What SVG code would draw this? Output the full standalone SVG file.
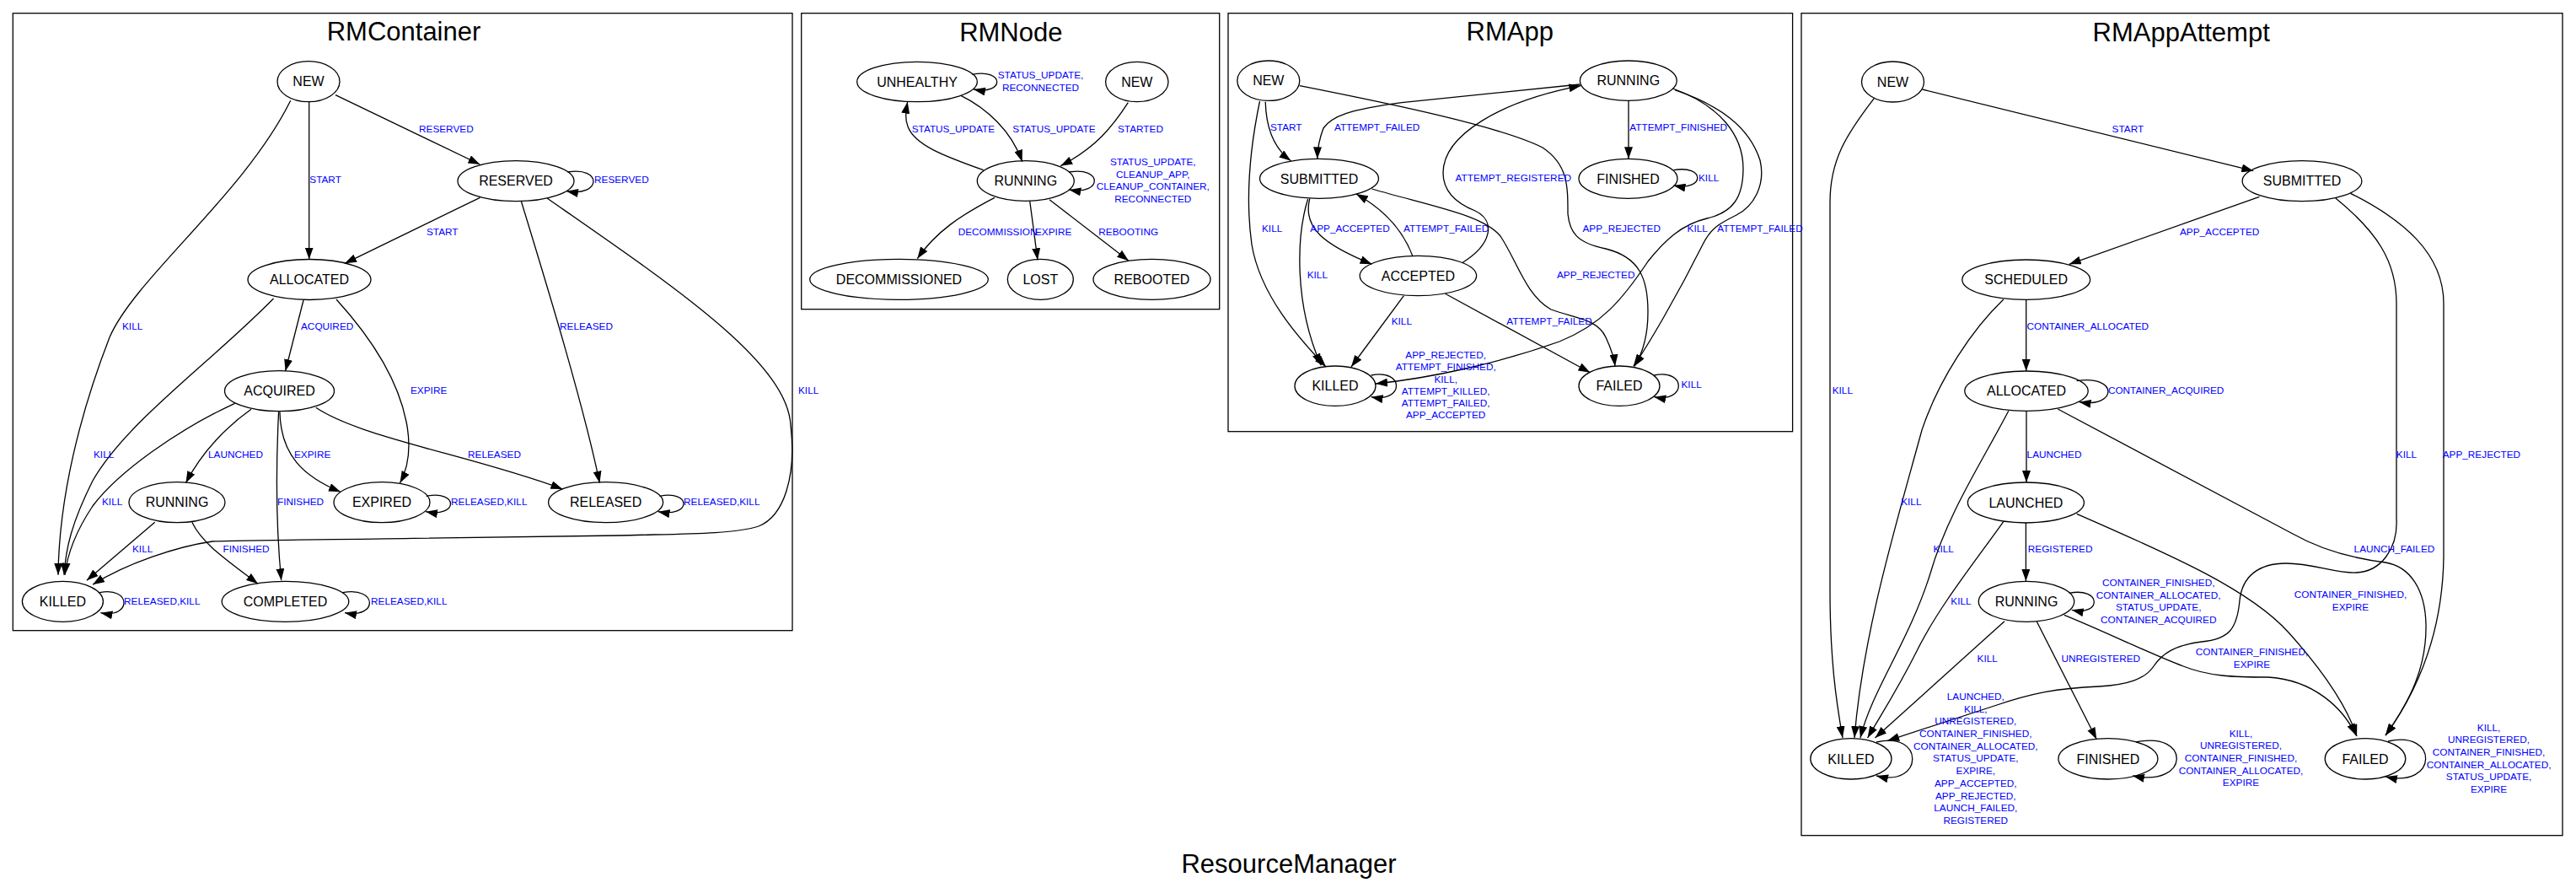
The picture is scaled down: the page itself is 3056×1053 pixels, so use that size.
<svg xmlns="http://www.w3.org/2000/svg" width="3056" height="1053" viewBox="0 0 3056 1053">
<style>
.bg{fill:#fff}
.cl{fill:none;stroke:#000;stroke-width:1.3}
.nd ellipse{fill:none;stroke:#000;stroke-width:1.3}
.nd text{font-family:"Liberation Sans",Arial,sans-serif;font-size:16px;text-anchor:middle;fill:#000}
.ed path{fill:none;stroke:#000;stroke-width:1.3;marker-end:url(#ah)}
.el{font-family:"Liberation Sans",Arial,sans-serif;font-size:11.8px;fill:#0000ff}
.lc{text-anchor:middle}
.tt{font-family:"Liberation Sans",Arial,sans-serif;font-size:31px;text-anchor:middle;fill:#000}
</style>
<defs>
<marker id="ah" markerWidth="14" markerHeight="10" refX="14" refY="5" orient="auto" markerUnits="userSpaceOnUse"><path d="M0,0 L14,5 L0,10 z" fill="#000"/></marker>
</defs>
<rect class="bg" x="0" y="0" width="3056" height="1053"/>

<!-- clusters -->
<g id="clusters">
<rect class="cl" x="15.3" y="15.7" width="924.7" height="732"/>
<text class="tt" x="479" y="48">RMContainer</text>
<rect class="cl" x="950.7" y="15.7" width="496" height="351"/>
<text class="tt" x="1199.3" y="49">RMNode</text>
<rect class="cl" x="1457" y="15.7" width="669.6" height="496"/>
<text class="tt" x="1791.3" y="48.3">RMApp</text>
<rect class="cl" x="2137" y="15.7" width="903" height="975"/>
<text class="tt" x="2587.7" y="49.3">RMAppAttempt</text>
<text class="tt" x="1529" y="1035">ResourceManager</text>
</g>

<!-- connectors -->
<g id="connectors" class="ed">
<!-- RMContainer -->
<path d="M398,112.7 L569.4,195"/>
<path d="M366.7,121 L366.7,307.5"/>
<path d="M673.5,204 C714.4,197 714.4,233.7 672,226.7"/>
<path d="M569.4,234.3 L409,312.3"/>
<path d="M618.4,238.7 C640,310 690,470 711.4,572.7"/>
<path d="M649,235 C800,340 935,430 938,505 C945,565 930,612 900,624 C870,634 800,633 735,635 L490,638.3 C400,640 300,640 252,642 C210,648 150,668 110,693.3"/>
<path d="M324.5,354 C250,430 150,500 110,570 C85,620 78,650 76,681.7"/>
<path d="M344.7,119.3 C290,230 160,330 130,400 C95,490 70,590 69,681.7"/>
<path d="M360,356 L338.6,440"/>
<path d="M399,355 C440,400 472,450 482,500 C488,530 484,555 474.5,572.7"/>
<path d="M298,485.3 C270,505 240,535 220.4,572.7"/>
<path d="M278.6,478.3 C210,510 140,560 110,600 C90,630 80,655 77,681.7"/>
<path d="M330.6,488.3 C328,540 327,620 333.7,688.3"/>
<path d="M331.9,488.3 C333,540 360,565 404,583.3"/>
<path d="M374.7,483.3 C430,520 560,540 667.4,580"/>
<path d="M505.7,588.3 C544.2,581 544.2,614 505,606.7"/>
<path d="M782.5,588.3 C820.8,581 820.8,614 780.6,606.7"/>
<path d="M183.7,619.3 L102.9,688.3"/>
<path d="M227.8,619.3 C240,645 270,665 306,692.3"/>
<path d="M118.2,702.7 C156.4,695 156.4,734 119.4,726.7"/>
<path d="M406.5,702.7 C448.6,695 448.6,734 409,726.7"/>
<!-- RMNode -->
<path d="M1153.3,88.3 C1192.2,81 1192.2,113 1155,106"/>
<path d="M1140,113.3 C1170,128 1200,155 1212.7,191.7"/>
<path d="M1166.7,201.7 C1120,185 1085,172 1077,150 C1073,140 1075,130 1076.7,120.7"/>
<path d="M1338.3,121.7 C1320,150 1300,175 1258.3,196.7"/>
<path d="M1268.3,204 C1308.3,197 1308.3,232 1268.3,225"/>
<path d="M1180,234.3 C1140,255 1110,275 1088.3,306.7"/>
<path d="M1221.7,238.3 L1231,308.3"/>
<path d="M1245,236.7 L1339,309.3"/>
<!-- RMApp -->
<path d="M1501.2,120.7 C1502,150 1510,175 1531.5,190.7"/>
<path d="M1874.4,100 L1663,121.7 C1600,130 1580,138 1570,152 C1565,165 1563,175 1562.8,188.3"/>
<path d="M1541.8,101.7 C1650,123 1780,150 1830,175 C1860,195 1860,220 1860,253.3 C1862,275 1870,288 1905,295 C1945,305 1955,330 1955,370 C1955,400 1948,420 1939,434.3"/>
<path d="M1627.5,224 C1700,245 1760,255 1780,280 C1800,310 1810,350 1840,367 C1870,378 1895,378 1905,400 C1912,415 1915,425 1916,434.3"/>
<path d="M1984.6,105 C2040,125 2068,160 2068,200 C2068,235 2055,252 2025,259 C1995,266 1975,285 1955,310 C1925,355 1900,385 1850,405 C1780,430 1700,448 1632,455"/>
<path d="M1986.9,106.7 C2040,125 2075,150 2088,190 C2095,220 2080,245 2060,255 C2040,265 2030,270 2020,290 C1990,350 1955,410 1937.8,434.3"/>
<path d="M1734.6,311.7 C1770,290 1775,262 1750,250 C1725,240 1712,225 1712,205 C1712,160 1780,120 1875.3,101.7"/>
<path d="M1675.7,303.3 C1665,275 1645,250 1608.8,230"/>
<path d="M1553.8,235.3 C1545,270 1570,290 1627.5,313.3"/>
<path d="M1551.6,236 C1538,280 1535,360 1567.2,433.3"/>
<path d="M1494.5,120 C1482,180 1478,240 1485,290 C1495,350 1540,400 1573,435"/>
<path d="M1665.4,350.7 L1603,435"/>
<path d="M1714.5,348.3 L1886.4,441.7"/>
<path d="M1932,119.3 L1932,188.3"/>
<path d="M1985.5,201.7 C2023.1,195 2023.1,227 1985.5,220"/>
<path d="M1626.6,445 C1666.5,437 1666.5,478 1626.6,470.7"/>
<path d="M1962.3,445 C2001,437 2001,478 1962.3,470.7"/>
<!-- RMAppAttempt -->
<path d="M2280.6,106 L2673.3,202.7"/>
<path d="M2223.3,116.7 C2190,160 2171,190 2171,240 L2171,700 C2171,780 2178,830 2186,875"/>
<path d="M2680.4,233.3 L2454.8,313.3"/>
<path d="M2770.8,235 C2820,275 2843,310 2843,360 L2843,615 C2845,650 2825,678 2795,679 C2770,680 2745,668 2712,668 C2680,668 2660,683 2657,712 C2654,745 2645,758 2612,761 C2580,765 2565,775 2555,790 C2545,805 2525,812 2490,814 C2440,816 2410,822 2366,837 L2239.3,878.3"/>
<path d="M2788.5,229.3 C2850,260 2899,300 2899,360 L2899,660 C2898,740 2875,810 2830,872"/>
<path d="M2403.7,355.3 L2403.7,440"/>
<path d="M2376.9,355 C2340,390 2300,450 2280,510 C2250,620 2210,750 2200,875"/>
<path d="M2463.7,451.7 C2512.8,444 2512.8,484 2466.6,476.7"/>
<path d="M2404,487.3 L2404,572"/>
<path d="M2382.8,487.3 C2350,550 2310,610 2290,680 C2265,760 2220,820 2207,875"/>
<path d="M2441.2,485 L2720,633 C2750,650 2790,662 2830,667 C2860,672 2877,700 2878,740 C2879,790 2860,830 2830,872"/>
<path d="M2403.4,620 L2403.4,689"/>
<path d="M2376.9,618.3 C2340,670 2300,720 2275,770 C2250,820 2230,850 2215.6,875"/>
<path d="M2454.8,703.3 C2493.6,696 2493.6,731 2457.8,723.3"/>
<path d="M2378,736.7 L2224.5,875"/>
<path d="M2416.4,737.3 L2487.3,876.7"/>
<path d="M2463.7,609.3 C2580,660 2670,700 2715,750 C2760,800 2785,840 2796,873"/>
<path d="M2448.9,729.3 C2500,750 2550,775 2590,790 C2620,802 2650,803 2690,803 C2745,806 2780,840 2795,872"/>
<path d="M2226,880 C2283,866 2283,934 2226,920"/>
<path d="M2534,880 C2599,866 2599,934 2530,920"/>
<path d="M2833,879 C2893,865 2893,935 2830,921"/>
</g>

<!-- edge labels -->
<g id="edge-labels" class="el">
<!-- RMContainer -->
<text x="497" y="156.9">RESERVED</text>
<text x="367.3" y="217.2">START</text>
<text x="705" y="217.2">RESERVED</text>
<text x="506" y="279.2">START</text>
<text x="145" y="390.9">KILL</text>
<text x="357" y="390.9">ACQUIRED</text>
<text x="664" y="390.9">RELEASED</text>
<text x="947" y="466.9">KILL</text>
<text x="487" y="466.9">EXPIRE</text>
<text x="111" y="542.9">KILL</text>
<text x="247" y="542.9">LAUNCHED</text>
<text x="349" y="542.9">EXPIRE</text>
<text x="555" y="542.9">RELEASED</text>
<text x="121" y="598.9">KILL</text>
<text x="329" y="598.9">FINISHED</text>
<text x="535" y="598.9">RELEASED,KILL</text>
<text x="811" y="598.9">RELEASED,KILL</text>
<text x="157" y="654.9">KILL</text>
<text x="264.5" y="654.9">FINISHED</text>
<text x="147" y="716.9">RELEASED,KILL</text>
<text x="440" y="716.9">RELEASED,KILL</text>
<!-- RMNode -->
<text class="lc"><tspan x="1234.5" y="92.9">STATUS_UPDATE,</tspan><tspan x="1234.5" y="107.9">RECONNECTED</tspan></text>
<text x="1081.7" y="156.9">STATUS_UPDATE</text>
<text x="1201.3" y="156.9">STATUS_UPDATE</text>
<text x="1326" y="156.9">STARTED</text>
<text class="lc"><tspan x="1367.8" y="195.9">STATUS_UPDATE,</tspan><tspan x="1367.8" y="210.5">CLEANUP_APP,</tspan><tspan x="1367.8" y="225.2">CLEANUP_CONTAINER,</tspan><tspan x="1367.8" y="239.9">RECONNECTED</tspan></text>
<text x="1136.7" y="278.5">DECOMMISSION</text>
<text x="1228" y="278.5">EXPIRE</text>
<text x="1303.3" y="278.5">REBOOTING</text>
<!-- RMApp -->
<text x="1507" y="154.9">START</text>
<text x="1582.9" y="154.9">ATTEMPT_FAILED</text>
<text x="1933.3" y="154.9">ATTEMPT_FINISHED</text>
<text x="1726.6" y="214.9">ATTEMPT_REGISTERED</text>
<text x="2015" y="214.9">KILL</text>
<text x="1497" y="274.9">KILL</text>
<text x="1554.3" y="274.9">APP_ACCEPTED</text>
<text x="1665" y="274.9">ATTEMPT_FAILED</text>
<text x="1877.5" y="274.9">APP_REJECTED</text>
<text x="2001.6" y="274.9">KILL</text>
<text x="2037.3" y="274.9">ATTEMPT_FAILED</text>
<text x="1550.7" y="330.2">KILL</text>
<text x="1847" y="330.2">APP_REJECTED</text>
<text x="1650.7" y="385.2">KILL</text>
<text x="1787.3" y="385.2">ATTEMPT_FAILED</text>
<text class="lc"><tspan x="1715.2" y="424.9">APP_REJECTED,</tspan><tspan x="1715.2" y="439.2">ATTEMPT_FINISHED,</tspan><tspan x="1715.2" y="453.5">KILL,</tspan><tspan x="1715.2" y="467.8">ATTEMPT_KILLED,</tspan><tspan x="1715.2" y="482.1">ATTEMPT_FAILED,</tspan><tspan x="1715.2" y="496.4">APP_ACCEPTED</tspan></text>
<text x="1994.5" y="460.2">KILL</text>
<!-- RMAppAttempt -->
<text x="2505.6" y="156.9">START</text>
<text x="2585.9" y="278.9">APP_ACCEPTED</text>
<text x="2404.6" y="390.9">CONTAINER_ALLOCATED</text>
<text x="2173.7" y="466.9">KILL</text>
<text x="2500.9" y="466.9">CONTAINER_ACQUIRED</text>
<text x="2404.6" y="542.9">LAUNCHED</text>
<text x="2842.8" y="542.9">KILL</text>
<text x="2897.7" y="542.9">APP_REJECTED</text>
<text x="2255.2" y="599.2">KILL</text>
<text x="2293.6" y="654.9">KILL</text>
<text x="2405.8" y="654.9">REGISTERED</text>
<text x="2792.6" y="654.9">LAUNCH_FAILED</text>
<text class="lc"><tspan x="2560.7" y="695.2">CONTAINER_FINISHED,</tspan><tspan x="2560.7" y="709.5">CONTAINER_ALLOCATED,</tspan><tspan x="2560.7" y="724.2">STATUS_UPDATE,</tspan><tspan x="2560.7" y="738.9">CONTAINER_ACQUIRED</tspan></text>
<text class="lc"><tspan x="2788.5" y="708.9">CONTAINER_FINISHED,</tspan><tspan x="2788.5" y="723.9">EXPIRE</tspan></text>
<text x="2314.3" y="716.9">KILL</text>
<text x="2345.6" y="784.9">KILL</text>
<text x="2445.4" y="784.9">UNREGISTERED</text>
<text class="lc"><tspan x="2671.5" y="776.9">CONTAINER_FINISHED,</tspan><tspan x="2671.5" y="791.5">EXPIRE</tspan></text>
<text class="lc"><tspan x="2343.8" y="829.9">LAUNCHED,</tspan><tspan x="2343.8" y="844.6">KILL,</tspan><tspan x="2343.8" y="859.3">UNREGISTERED,</tspan><tspan x="2343.8" y="874">CONTAINER_FINISHED,</tspan><tspan x="2343.8" y="888.7">CONTAINER_ALLOCATED,</tspan><tspan x="2343.8" y="903.4">STATUS_UPDATE,</tspan><tspan x="2343.8" y="918.1">EXPIRE,</tspan><tspan x="2343.8" y="932.8">APP_ACCEPTED,</tspan><tspan x="2343.8" y="947.5">APP_REJECTED,</tspan><tspan x="2343.8" y="962.2">LAUNCH_FAILED,</tspan><tspan x="2343.8" y="976.9">REGISTERED</tspan></text>
<text class="lc"><tspan x="2658.5" y="873.5">KILL,</tspan><tspan x="2658.5" y="888.2">UNREGISTERED,</tspan><tspan x="2658.5" y="902.9">CONTAINER_FINISHED,</tspan><tspan x="2658.5" y="917.6">CONTAINER_ALLOCATED,</tspan><tspan x="2658.5" y="932.3">EXPIRE</tspan></text>
<text class="lc"><tspan x="2952.6" y="866.5">KILL,</tspan><tspan x="2952.6" y="881.2">UNREGISTERED,</tspan><tspan x="2952.6" y="895.9">CONTAINER_FINISHED,</tspan><tspan x="2952.6" y="910.6">CONTAINER_ALLOCATED,</tspan><tspan x="2952.6" y="925.3">STATUS_UPDATE,</tspan><tspan x="2952.6" y="940">EXPIRE</tspan></text>
</g>

<!-- RMContainer nodes -->
<g id="rmc-new" class="nd"><ellipse cx="366" cy="96.7" rx="37" ry="24"/><text x="366" y="102.4">NEW</text></g>
<g id="rmc-reserved" class="nd"><ellipse cx="612" cy="214.7" rx="69" ry="24"/><text x="612" y="220.4">RESERVED</text></g>
<g id="rmc-allocated" class="nd"><ellipse cx="367" cy="331.5" rx="73" ry="24"/><text x="367" y="337.2">ALLOCATED</text></g>
<g id="rmc-acquired" class="nd"><ellipse cx="331.5" cy="463.7" rx="65" ry="24"/><text x="331.5" y="469.4">ACQUIRED</text></g>
<g id="rmc-running" class="nd"><ellipse cx="210" cy="595.7" rx="57" ry="24"/><text x="210" y="601.4">RUNNING</text></g>
<g id="rmc-expired" class="nd"><ellipse cx="453" cy="595.7" rx="57" ry="24"/><text x="453" y="601.4">EXPIRED</text></g>
<g id="rmc-released" class="nd"><ellipse cx="718.6" cy="595.7" rx="68" ry="24"/><text x="718.6" y="601.4">RELEASED</text></g>
<g id="rmc-killed" class="nd"><ellipse cx="74.4" cy="713.3" rx="48" ry="24"/><text x="74.4" y="719">KILLED</text></g>
<g id="rmc-completed" class="nd"><ellipse cx="338.5" cy="713.3" rx="75.3" ry="24"/><text x="338.5" y="719">COMPLETED</text></g>

<!-- RMNode nodes -->
<g id="rmn-unhealthy" class="nd"><ellipse cx="1088" cy="97" rx="71.3" ry="23.7"/><text x="1088" y="102.7">UNHEALTHY</text></g>
<g id="rmn-new" class="nd"><ellipse cx="1348.8" cy="97" rx="37.2" ry="23.7"/><text x="1348.8" y="102.7">NEW</text></g>
<g id="rmn-running" class="nd"><ellipse cx="1216.8" cy="214.5" rx="57.5" ry="23.8"/><text x="1216.8" y="220.2">RUNNING</text></g>
<g id="rmn-decommissioned" class="nd"><ellipse cx="1066.5" cy="331.3" rx="105.8" ry="24"/><text x="1066.5" y="337">DECOMMISSIONED</text></g>
<g id="rmn-lost" class="nd"><ellipse cx="1234.3" cy="331.3" rx="39" ry="24"/><text x="1234.3" y="337">LOST</text></g>
<g id="rmn-rebooted" class="nd"><ellipse cx="1366.5" cy="331.3" rx="69.5" ry="24"/><text x="1366.5" y="337">REBOOTED</text></g>

<!-- RMApp nodes -->
<g id="rma-new" class="nd"><ellipse cx="1504.8" cy="95.7" rx="37" ry="23.7"/><text x="1504.8" y="101.4">NEW</text></g>
<g id="rma-running" class="nd"><ellipse cx="1931.8" cy="95.7" rx="57.4" ry="23.7"/><text x="1931.8" y="101.4">RUNNING</text></g>
<g id="rma-submitted" class="nd"><ellipse cx="1565" cy="211.8" rx="70.5" ry="23.5"/><text x="1565" y="217.5">SUBMITTED</text></g>
<g id="rma-finished" class="nd"><ellipse cx="1931.5" cy="211.8" rx="58.5" ry="23.5"/><text x="1931.5" y="217.5">FINISHED</text></g>
<g id="rma-accepted" class="nd"><ellipse cx="1682.4" cy="327" rx="69.2" ry="23.7"/><text x="1682.4" y="332.7">ACCEPTED</text></g>
<g id="rma-killed" class="nd"><ellipse cx="1584" cy="457.7" rx="48" ry="23.7"/><text x="1584" y="463.4">KILLED</text></g>
<g id="rma-failed" class="nd"><ellipse cx="1921" cy="457.7" rx="48" ry="23.7"/><text x="1921" y="463.4">FAILED</text></g>

<!-- RMAppAttempt nodes -->
<g id="rmaa-new" class="nd"><ellipse cx="2245.5" cy="97" rx="37" ry="24"/><text x="2245.5" y="102.7">NEW</text></g>
<g id="rmaa-submitted" class="nd"><ellipse cx="2731" cy="214.7" rx="70.9" ry="24"/><text x="2731" y="220.4">SUBMITTED</text></g>
<g id="rmaa-scheduled" class="nd"><ellipse cx="2403.7" cy="331.7" rx="75.9" ry="23.7"/><text x="2403.7" y="337.4">SCHEDULED</text></g>
<g id="rmaa-allocated" class="nd"><ellipse cx="2404" cy="463.7" rx="73.2" ry="23.7"/><text x="2404" y="469.4">ALLOCATED</text></g>
<g id="rmaa-launched" class="nd"><ellipse cx="2403.4" cy="596" rx="69" ry="24"/><text x="2403.4" y="601.7">LAUNCHED</text></g>
<g id="rmaa-running" class="nd"><ellipse cx="2404" cy="713.3" rx="56.7" ry="24"/><text x="2404" y="719">RUNNING</text></g>
<g id="rmaa-killed" class="nd"><ellipse cx="2195.9" cy="899.8" rx="48.1" ry="24.2"/><text x="2195.9" y="905.5">KILLED</text></g>
<g id="rmaa-finished" class="nd"><ellipse cx="2500.9" cy="899.8" rx="59" ry="24.2"/><text x="2500.9" y="905.5">FINISHED</text></g>
<g id="rmaa-failed" class="nd"><ellipse cx="2806" cy="899.8" rx="47.8" ry="24.2"/><text x="2806" y="905.5">FAILED</text></g>
</svg>
